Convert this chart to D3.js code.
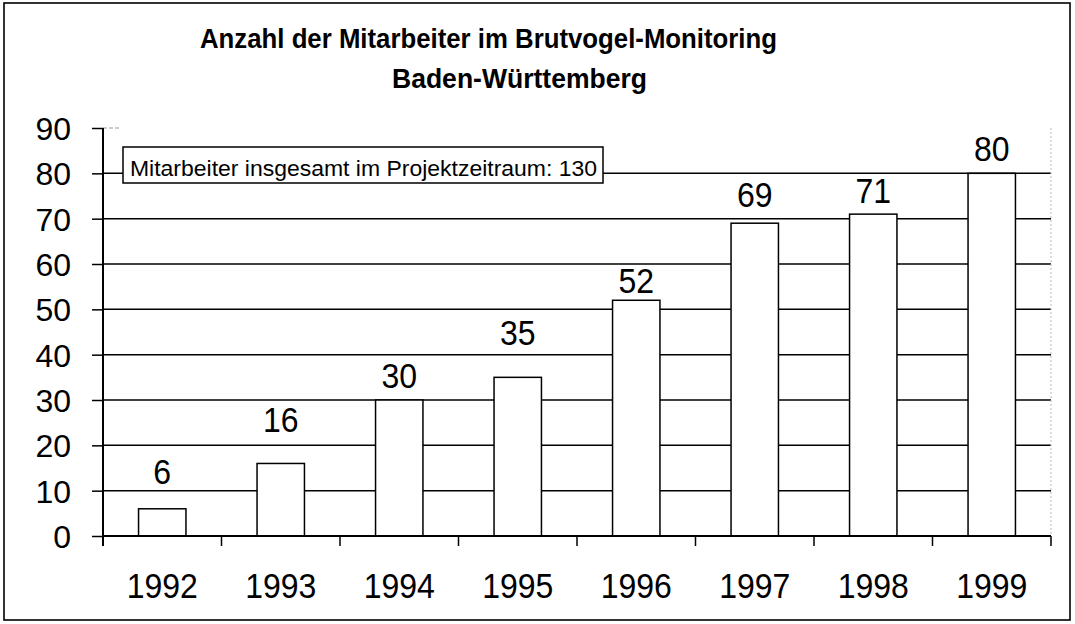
<!DOCTYPE html>
<html><head><meta charset="utf-8">
<script src="https://cdn.jsdelivr.net/npm/d3@7"></script>
<style>
html,body{margin:0;padding:0;background:#fff;}
svg{display:block;font-family:"Liberation Sans",Arial,sans-serif;}
</style></head>
<body>
<svg id="chart" width="1075" height="624"></svg>
<script>
const titleLines = ["Anzahl der Mitarbeiter im Brutvogel-Monitoring", "Baden-Württemberg"];
const years = ["1992","1993","1994","1995","1996","1997","1998","1999"];
const counts = [6, 16, 30, 35, 52, 69, 71, 80];
const yTicks = [0,10,20,30,40,50,60,70,80,90];
const noteText = "Mitarbeiter insgesamt im Projektzeitraum: 130";
// label gap above each bar (px), as placed in the original
const labelGap = [25, 31, 12, 32, 7, 16, 11, 12];

const svg = d3.select("#chart");
const m = {left: 103, right: 1051, top: 128, bottom: 536};

const x = d3.scaleBand().domain(years).range([m.left, m.right]).paddingInner(0.6).paddingOuter(0.3);
const y = d3.scaleLinear().domain([0, 90]).range([m.bottom, m.top]);
const step = x.step();

// outer frame
svg.append("rect").attr("x", 4).attr("y", 3).attr("width", 1066).attr("height", 617)
  .attr("fill", "#fff").attr("stroke", "#000").attr("stroke-width", 1.6);

// title
const tl = [{t: titleLines[0], x0: 200, w: 577, yb: 48}, {t: titleLines[1], x0: 392, w: 255, yb: 88}];
svg.selectAll("text.title").data(tl).join("text").attr("class", "title")
  .attr("x", d => d.x0).attr("y", d => d.yb)
  .attr("font-size", 28).attr("font-weight", "bold")
  .attr("textLength", d => d.w).attr("lengthAdjust", "spacingAndGlyphs")
  .text(d => d.t);

// gridlines (10..80)
svg.append("g").selectAll("line").data(yTicks.filter(v => v > 0 && v < 90)).join("line")
  .attr("x1", m.left).attr("x2", m.right)
  .attr("y1", d => y(d)).attr("y2", d => y(d))
  .attr("stroke", "#000").attr("stroke-width", 1.5);

// faint plot-area top and right edges
svg.append("line").attr("x1", m.left).attr("x2", m.left + 18).attr("y1", y(90)).attr("y2", y(90))
  .attr("stroke", "#999").attr("stroke-width", 1).attr("stroke-dasharray", "4,2");
svg.append("line").attr("x1", m.right).attr("x2", m.right).attr("y1", y(90)).attr("y2", m.bottom)
  .attr("stroke", "#bbb").attr("stroke-width", 1).attr("stroke-dasharray", "2,2");

// bars
svg.append("g").selectAll("rect").data(counts).join("rect")
  .attr("x", (d, i) => x(years[i])).attr("width", x.bandwidth())
  .attr("y", d => y(d)).attr("height", d => y(0) - y(d))
  .attr("fill", "#fff").attr("stroke", "#000").attr("stroke-width", 1.5);

// y axis
const yAxis = d3.axisLeft(y).tickValues(yTicks).tickSize(11).tickPadding(21);
const gy = svg.append("g").attr("transform", `translate(${m.left},0)`).call(yAxis);
gy.select(".domain").remove();
gy.selectAll(".tick line").attr("stroke", "#000").attr("stroke-width", 1.5);
gy.selectAll(".tick text").attr("font-size", 32).attr("fill", "#000")
  .attr("font-family", "Liberation Sans, Arial, sans-serif").attr("dy", "0.36em");
svg.append("line").attr("x1", m.left).attr("x2", m.left).attr("y1", m.top).attr("y2", m.bottom + 10)
  .attr("stroke", "#000").attr("stroke-width", 2);

// x axis line + boundary ticks
svg.append("line").attr("x1", m.left).attr("x2", m.right).attr("y1", m.bottom).attr("y2", m.bottom)
  .attr("stroke", "#000").attr("stroke-width", 2);
const bounds = d3.range(years.length + 1).map(i => m.left + i * step);
svg.append("g").selectAll("line").data(bounds.slice(1)).join("line")
  .attr("x1", d => d).attr("x2", d => d).attr("y1", m.bottom).attr("y2", m.bottom + 10)
  .attr("stroke", "#000").attr("stroke-width", 1.5);

// x labels
svg.append("g").selectAll("text").data(years).join("text")
  .attr("text-anchor", "middle").attr("font-size", 32)
  .attr("transform", d => `translate(${x(d) + x.bandwidth() / 2},598) scale(1,1.09)`)
  .text(d => d);

// value labels
svg.append("g").selectAll("text").data(counts).join("text")
  .attr("text-anchor", "middle").attr("font-size", 32)
  .attr("transform", (d, i) => `translate(${x(years[i]) + x.bandwidth() / 2},${y(d) - labelGap[i]}) scale(1,1.09)`)
  .text(d => d);

// note box
svg.append("rect").attr("x", 123).attr("y", 147).attr("width", 480).attr("height", 36)
  .attr("fill", "#fff").attr("stroke", "#000").attr("stroke-width", 1.5);
svg.append("text").attr("x", 130).attr("y", 176).attr("font-size", 22)
  .attr("textLength", 467).attr("lengthAdjust", "spacingAndGlyphs").text(noteText);
</script>
</body></html>
